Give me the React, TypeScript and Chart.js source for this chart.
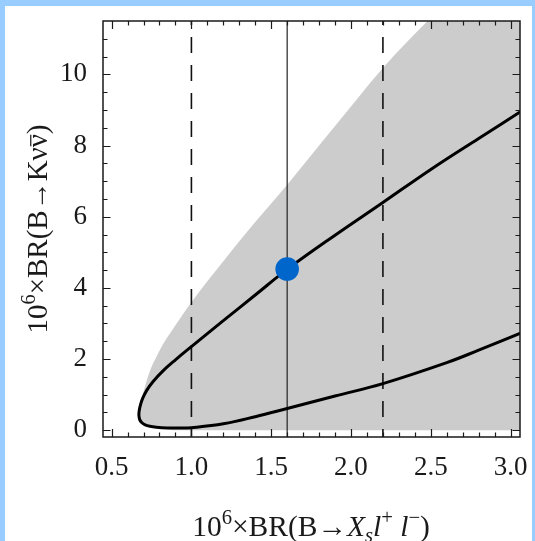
import { useEffect, useRef } from "react";
import { Chart, registerables } from "chart.js";

Chart.register(...registerables);

// ---- axis ranges & ticks ----
const X_MIN = 0.446;
const X_MAX = 3.059;
const Y_MIN = -0.19;
const Y_MAX = 11.5;
const xTickValues = [0.5, 1.0, 1.5, 2.0, 2.5, 3.0];
const xTickLabels = ["0.5", "1.0", "1.5", "2.0", "2.5", "3.0"];
const yTickValues = [0, 2, 4, 6, 8, 10];
const yTickLabels = ["0", "2", "4", "6", "8", "10"];
const xMinorStep = 0.1;
const yMinorStep = 0.5;

// ---- black contour (upper branch -> tip -> lower branch) ----
const curveX = [3.08, 2.8, 2.5, 2.2, 1.9, 1.6, 1.4, 1.2, 1.0, 0.9, 0.822, 0.76, 0.72, 0.695, 0.68, 0.673, 0.671, 0.676, 0.69, 0.71, 0.74, 0.78, 0.85, 0.93, 1.0, 1.2, 1.4, 1.6, 1.9, 2.2, 2.6, 2.8, 3.08];
const curveY = [9.0, 8.2, 7.33, 6.4, 5.48, 4.52, 3.8, 3.08, 2.35, 1.98, 1.67, 1.37, 1.12, 0.9, 0.7, 0.55, 0.42, 0.3, 0.21, 0.15, 0.11, 0.085, 0.065, 0.06, 0.07, 0.18, 0.38, 0.61, 0.96, 1.31, 1.9, 2.25, 2.76];

// ---- grey allowed region: upper edge and lower edge ----
const shadeTopX = [0.671, 0.673, 0.68, 0.695, 0.72, 0.75, 0.78, 0.82, 0.9, 1.0, 1.2, 1.4, 1.6, 1.8, 2.0, 2.2, 2.48, 2.6, 3.2];
const shadeTopY = [0.42, 0.55, 0.75, 1.0, 1.4, 1.78, 2.05, 2.4, 2.95, 3.6, 4.75, 5.85, 6.9, 8.0, 9.1, 10.18, 11.5, 12.0, 12.1];
const shadeBottomX = [0.671, 0.676, 0.69, 0.71, 0.74, 0.78, 0.85, 0.9, 3.2];
const shadeBottomY = [0.42, 0.3, 0.21, 0.15, 0.11, 0.085, 0.03, 0.0, 0.0];

// ---- reference lines & point ----
const dashedX = [1.0, 2.2];
const solidX = [1.6];
const pointX = [1.6];
const pointY = [4.53];

const FONT = '"Liberation Serif", "Times New Roman", serif';

type Seg = { t: string; it?: boolean; sup?: boolean; sub?: boolean; over?: boolean };

const xTitle: Seg[] = [
  { t: "10" }, { t: "6", sup: true }, { t: "×BR(B→" }, { t: "X", it: true }, { t: "s", it: true, sub: true },
  { t: "l", it: true }, { t: "+", sup: true }, { t: " l", it: true }, { t: "−", sup: true }, { t: ")" },
];
const yTitle: Seg[] = [
  { t: "10" }, { t: "6", sup: true }, { t: "×BR(B→K" }, { t: "ν" }, { t: "ν", over: true }, { t: ")" },
];

function segFont(s: Seg, size: number) {
  const sz = s.sup || s.sub ? size * 0.7 : size;
  return `${s.it ? "italic " : ""}${sz}px ${FONT}`;
}

function drawRich(ctx: CanvasRenderingContext2D, segs: Seg[], size: number) {
  let total = 0;
  const widths = segs.map((s) => {
    ctx.font = segFont(s, size);
    const w = ctx.measureText(s.t).width;
    total += w;
    return w;
  });
  let x = -total / 2;
  ctx.textBaseline = "alphabetic";
  ctx.textAlign = "left";
  segs.forEach((s, i) => {
    ctx.font = segFont(s, size);
    let dy = 0;
    if (s.sup) dy = -size * 0.42;
    if (s.sub) dy = size * 0.2;
    ctx.fillText(s.t, x, dy);
    if (s.over) {
      ctx.save();
      ctx.lineWidth = 1.2;
      ctx.beginPath();
      ctx.moveTo(x + 1, -size * 0.56);
      ctx.lineTo(x + widths[i] - 0.5, -size * 0.56);
      ctx.stroke();
      ctx.restore();
    }
    x += widths[i];
  });
}

const framePlugin = {
  id: "frameTicks",
  afterDatasetsDraw(chart: any) {
    const { ctx, chartArea: a, scales } = chart;
    const xs = scales.x;
    const ys = scales.y;
    ctx.save();
    ctx.strokeStyle = "#1a1a1a";
    ctx.lineWidth = 1.5;
    ctx.strokeRect(a.left, a.top, a.right - a.left, a.bottom - a.top);
    ctx.lineWidth = 1.2;
    const majX = 8, minX = 4.5, majY = 7.5, minY = 4.5;
    ctx.beginPath();
    for (let k = 0; ; k++) {
      const v = 0.5 + k * xMinorStep;
      if (v > X_MAX + 1e-9) break;
      const major = xTickValues.some((t) => Math.abs(t - v) < 1e-6);
      const len = major ? majX : minX;
      const px = Math.round(xs.getPixelForValue(v)) + 0.5;
      ctx.moveTo(px, a.bottom);
      ctx.lineTo(px, a.bottom - len);
      ctx.moveTo(px, a.top);
      ctx.lineTo(px, a.top + len);
    }
    for (let k = 0; ; k++) {
      const v = k * yMinorStep;
      if (v > Y_MAX - 0.05) break;
      const major = yTickValues.some((t) => Math.abs(t - v) < 1e-6);
      const len = major ? majY : minY;
      const py = Math.round(ys.getPixelForValue(v)) + 0.5;
      ctx.moveTo(a.left, py);
      ctx.lineTo(a.left + len, py);
      ctx.moveTo(a.right, py);
      ctx.lineTo(a.right - len, py);
    }
    ctx.stroke();
    ctx.restore();
  },
  afterDraw(chart: any) {
    const { ctx } = chart;
    ctx.save();
    ctx.fillStyle = "#1a1a1a";
    ctx.strokeStyle = "#1a1a1a";
    ctx.translate(306, 530);
    drawRich(ctx, xTitle, 29.5);
    ctx.restore();
    ctx.save();
    ctx.fillStyle = "#1a1a1a";
    ctx.strokeStyle = "#1a1a1a";
    ctx.translate(42, 223);
    ctx.rotate(-Math.PI / 2);
    drawRich(ctx, yTitle, 29);
    ctx.restore();
  },
};

export default function App() {
  const ref = useRef<HTMLCanvasElement | null>(null);

  useEffect(() => {
    document.body.style.margin = "0";
    const canvas = ref.current!;
    const toXY = (xa: number[], ya: number[]) => xa.map((x, i) => ({ x, y: ya[i] }));
    const vline = (x: number) => [{ x, y: Y_MIN }, { x, y: Y_MAX }];

    const datasets: any[] = [
      {
        data: toXY(pointX, pointY),
        showLine: false,
        pointRadius: 11.8,
        pointBackgroundColor: "#0066cc",
        pointBorderWidth: 0,
        order: 0,
      },
      {
        data: toXY(curveX, curveY),
        showLine: true,
        borderColor: "#000",
        borderWidth: 3,
        pointRadius: 0,
        tension: 0.4,
        fill: false,
        order: 1,
      },
      ...solidX.map((x) => ({
        data: vline(x),
        showLine: true,
        borderColor: "#222",
        borderWidth: 1.2,
        pointRadius: 0,
        fill: false,
        order: 2,
      })),
      ...dashedX.map((x) => ({
        data: vline(x),
        showLine: true,
        borderColor: "#111",
        borderWidth: 1.6,
        borderDash: [16, 12],
        borderDashOffset: 8,
        pointRadius: 0,
        fill: false,
        order: 2,
      })),
      {
        data: toXY(shadeTopX, shadeTopY),
        showLine: true,
        borderWidth: 0,
        borderColor: "rgba(0,0,0,0)",
        backgroundColor: "#cccccc",
        pointRadius: 0,
        cubicInterpolationMode: "monotone",
        fill: "+1",
        order: 3,
      },
      {
        data: toXY(shadeBottomX, shadeBottomY),
        showLine: true,
        borderWidth: 0,
        borderColor: "rgba(0,0,0,0)",
        pointRadius: 0,
        cubicInterpolationMode: "monotone",
        fill: false,
        order: 4,
      },
    ];

    const chart = new Chart(canvas, {
      type: "scatter",
      data: { datasets },
      options: {
        responsive: false,
        maintainAspectRatio: false,
        animation: false,
        events: [],
        layout: { padding: { top: 15, right: 12, left: 0, bottom: 0 } },
        plugins: { legend: { display: false }, tooltip: { enabled: false } },
        scales: {
          x: {
            type: "linear",
            min: X_MIN,
            max: X_MAX,
            grid: { display: false },
            border: { display: false },
            afterBuildTicks: (s: any) => {
              s.ticks = xTickValues.map((value) => ({ value }));
            },
            afterFit: (s: any) => {
              s.height = 104;
              s.paddingLeft = 0;
              s.paddingRight = 0;
            },
            ticks: {
              color: "#1a1a1a",
              font: { family: FONT, size: 27 },
              padding: 7,
              maxRotation: 0,
              autoSkip: false,
              callback: (_v: any, i: number) => xTickLabels[i],
            },
          },
          y: {
            type: "linear",
            min: Y_MIN,
            max: Y_MAX,
            grid: { display: false },
            border: { display: false },
            afterBuildTicks: (s: any) => {
              s.ticks = yTickValues.map((value) => ({ value }));
            },
            afterFit: (s: any) => {
              s.width = 98;
              s.paddingTop = 0;
              s.paddingBottom = 0;
            },
            ticks: {
              color: "#1a1a1a",
              font: { family: FONT, size: 27 },
              padding: 8,
              autoSkip: false,
              callback: (_v: any, i: number) => yTickLabels[i],
            },
          },
        },
      },
      plugins: [framePlugin],
    });
    return () => chart.destroy();
  }, []);

  return (
    <div style={{ position: "relative", width: 535, height: 541, background: "#99ccff", overflow: "hidden" }}>
      <div style={{ position: "absolute", left: 5, top: 6, width: 527, height: 535, background: "#fff" }}>
        <canvas ref={ref} width={527} height={535} style={{ display: "block", width: 527, height: 535 }} />
      </div>
    </div>
  );
}
